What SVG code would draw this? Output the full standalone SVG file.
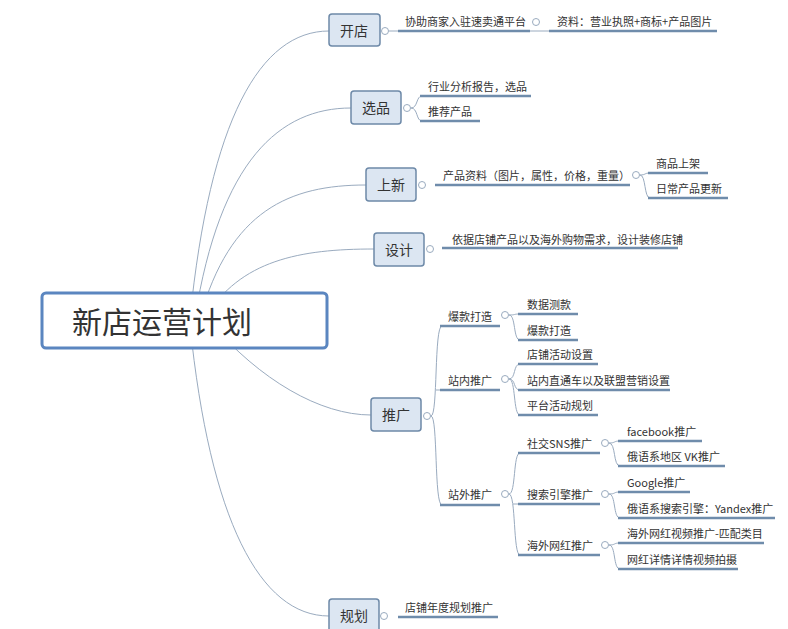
<svg xmlns="http://www.w3.org/2000/svg" width="788" height="629" viewBox="0 0 788 629">
<style>
.t{font-family:"Noto Sans CJK SC","Liberation Sans",sans-serif;font-size:11px;fill:#333}
.bt{font-family:"Noto Sans CJK SC","Liberation Sans",sans-serif;font-size:14px;fill:#333;text-anchor:middle}
.box{fill:#dce6f2;stroke:#6d89a8;stroke-width:1.5}
.u{stroke:#6f8cab;stroke-width:2.5;fill:none}
.c{fill:none;stroke:#9aabbf;stroke-width:1}
.o{fill:#fff;stroke:#9aabbf;stroke-width:1}
</style>
<rect width="788" height="629" fill="#fff"/>
<g id="connectors">
<path class="c" d="M190,318 C210,120 260,31 329,31"/>
<path class="c" d="M195,318 C220,160 280,108 351,108"/>
<path class="c" d="M200,318 C230,210 290,185 366,185"/>
<path class="c" d="M205,318 C240,260 300,249 374,249"/>
<path class="c" d="M210,322 C260,380 320,415 371,415"/>
<path class="c" d="M190,325 C210,520 260,616 329,616"/>
<path class="c" d="M389,31 H549"/>
<path class="c" d="M411,108 C418,108 416,96 422,96 M411,108 C418,108 416,121 422,121"/>
<path class="c" d="M640,175 C646,175 644,173 650,173 M640,175 C646,175 644,198 650,198"/>
<path class="c" d="M431,416 C438,416 434,326 442,326 M431,416 C438,416 434,505 442,505 M436,390 H442"/>
<path class="c" d="M509,315 C516,315 513,314 520,314 M509,315 C516,315 513,340 520,340"/>
<path class="c" d="M509,379 C516,379 513,364 520,364 M509,379 C516,379 513,415 520,415 M509,379 C516,379 513,390 520,390"/>
<path class="c" d="M509,494 C516,494 513,453 520,453 M509,494 C516,494 513,555 520,555 M513,504 H520"/>
<path class="c" d="M609,443 C616,443 613,441 620,441 M609,443 C616,443 613,466 620,466"/>
<path class="c" d="M609,494 C616,494 613,492 620,492 M609,494 C616,494 613,518 620,518"/>
<path class="c" d="M609,545 C616,545 613,543 620,543 M609,545 C616,545 613,569 620,569"/>
<path class="u" d="M398,31H530 M549,31H717 M420,96H531 M420,121H480 M435,185H630 M648,173H708 M648,198H728 M442,248H678 M440,326H500 M518,314H578 M518,340H578 M440,390H500 M518,364H598 M518,390H670 M518,415H598 M440,505H500 M518,453H600 M618,441H702 M618,466H725 M518,504H600 M618,492H690 M618,518H775 M518,555H600 M618,543H764 M618,569H738 M398,617H498"/>
<g class="o"><circle cx="385" cy="31" r="3.5"/><circle cx="536" cy="22" r="3.5"/><circle cx="407" cy="108" r="3.5"/><circle cx="422" cy="185" r="3.5"/><circle cx="636" cy="175" r="3.5"/><circle cx="430" cy="249" r="3.5"/><circle cx="427" cy="416" r="3.5"/><circle cx="505" cy="315" r="3.5"/><circle cx="505" cy="379" r="3.5"/><circle cx="505" cy="494" r="3.5"/><circle cx="605" cy="443" r="3.5"/><circle cx="605" cy="494" r="3.5"/><circle cx="605" cy="545" r="3.5"/><circle cx="384" cy="616" r="3.5"/></g>
</g>
<g id="root"><rect x="42" y="293" width="285" height="55" rx="4" fill="#fff" stroke="#5b86c0" stroke-width="3"/><text x="72" y="333" style="font-family:'Noto Sans CJK SC',sans-serif;font-size:30px;fill:#333">新店运营计划</text></g>
<g id="kaidian"><rect class="box" x="329" y="14" width="51" height="32" rx="3"/><text class="bt" x="354" y="36">开店</text></g>
<g id="xuanpin"><rect class="box" x="351" y="91" width="50" height="33" rx="3"/><text class="bt" x="376" y="113">选品</text></g>
<g id="shangxin"><rect class="box" x="366" y="168" width="50" height="33" rx="3"/><text class="bt" x="391" y="190">上新</text></g>
<g id="sheji"><rect class="box" x="374" y="233" width="50" height="33" rx="3"/><text class="bt" x="399" y="255">设计</text></g>
<g id="tuiguang"><rect class="box" x="371" y="398" width="50" height="33" rx="3"/><text class="bt" x="396" y="420">推广</text></g>
<g id="guihua"><rect class="box" x="329" y="599" width="50" height="34" rx="3"/><text class="bt" x="354" y="621">规划</text></g>
<g id="labels">
<text class="t" x="405" y="26">协助商家入驻速卖通平台</text>
<text class="t" x="557" y="26">资料：营业执照+商标+产品图片</text>
<text class="t" x="428" y="91">行业分析报告，选品</text>
<text class="t" x="428" y="116">推荐产品</text>
<text class="t" x="443" y="180">产品资料（图片，属性，价格，重量）</text>
<text class="t" x="656" y="168">商品上架</text>
<text class="t" x="656" y="193">日常产品更新</text>
<text class="t" x="452" y="244">依据店铺产品以及海外购物需求，设计装修店铺</text>
<text class="t" x="448" y="321">爆款打造</text>
<text class="t" x="527" y="309">数据测款</text>
<text class="t" x="527" y="335">爆款打造</text>
<text class="t" x="448" y="385">站内推广</text>
<text class="t" x="527" y="359">店铺活动设置</text>
<text class="t" x="527" y="385">站内直通车以及联盟营销设置</text>
<text class="t" x="527" y="410">平台活动规划</text>
<text class="t" x="448" y="499">站外推广</text>
<text class="t" x="527" y="448">社交SNS推广</text>
<text class="t" x="627" y="436">facebook推广</text>
<text class="t" x="627" y="461">俄语系地区 VK推广</text>
<text class="t" x="527" y="499">搜索引擎推广</text>
<text class="t" x="627" y="487">Google推广</text>
<text class="t" x="627" y="513">俄语系搜索引擎：Yandex推广</text>
<text class="t" x="527" y="550">海外网红推广</text>
<text class="t" x="627" y="538">海外网红视频推广-匹配类目</text>
<text class="t" x="627" y="564">网红详情详情视频拍摄</text>
<text class="t" x="405" y="612">店铺年度规划推广</text>
</g>
</svg>
